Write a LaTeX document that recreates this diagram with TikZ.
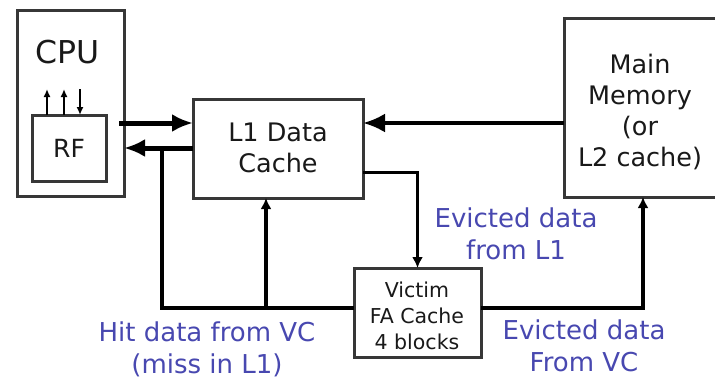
\documentclass[tikz,border=0pt]{standalone}
\usepackage{fontspec}
\setmainfont{DejaVu Sans}
\usetikzlibrary{arrows.meta}
\definecolor{boxline}{RGB}{55,55,55}
\definecolor{labelblue}{RGB}{72,72,176}
\definecolor{txt}{RGB}{25,25,25}
\begin{document}
\begin{tikzpicture}[x=1pt,y=-1pt,
  box/.style={draw=boxline,line width=3pt,rectangle,inner sep=0pt,outer sep=0pt,fill=white},
  bigtxt/.style={text=txt,align=center,font=\fontsize{25.5}{31}\selectfont},
  smalltxt/.style={text=txt,align=center,font=\fontsize{20.5}{26}\selectfont},
  note/.style={text=labelblue,align=center,font=\fontsize{26}{32}\selectfont},
  bus/.style={draw=black,line width=5pt,-{Latex[length=21pt,width=18pt]}},
  wire/.style={draw=black,line width=3.5pt},
  wirearrow/.style={wire,-{Latex[length=11pt,width=11pt]}},
  regarrow/.style={draw=black,line width=2.2pt,-{Latex[length=8pt,width=7pt]}}]
\useasboundingbox (0,0) rectangle (715,381);
\begin{scope}
\clip (0,0) rectangle (715,381);

% boxes
\node[box,minimum width=107pt,minimum height=186pt] (cpu) at (70.5,103) {};
\node[box,minimum width=74pt,minimum height=66pt] (rf) at (69,148) {};
\node[box,minimum width=170pt,minimum height=99pt] (l1) at (278,148.5) {};
\node[box,minimum width=157pt,minimum height=179pt] (mm) at (642.5,107.5) {};
\node[box,minimum width=127pt,minimum height=89pt] (vc) at (417.5,312.5) {};

% texts inside the boxes
\node[text=txt,font=\fontsize{31.5}{31}\selectfont] (cputxt) at (68,52) {CPU};
\node[text=txt,font=\fontsize{25}{25}\selectfont] (rftxt) at (rf) {RF};
\node[bigtxt] (l1txt) at (278,148) {L1 Data\\Cache};
\node[bigtxt] (mmtxt) at (640,112) {Main\\Memory\\(or\\L2 cache)};
\node[smalltxt] (vctxt) at (417,316) {Victim\\FA Cache\\4 blocks};

% blue annotations
\node[note] (n1) at (516,234) {Evicted data\\from L1};
\node[note] (n2) at (207,349) {Hit data from VC\\(miss in L1)};
\node[note] (n3) at (584,346) {Evicted data\\From VC};

% register file ports
\coordinate (p1) at (47,89);
\coordinate (p2) at (64,89);
\coordinate (p3) at (80,89);
\draw[regarrow] (rf.north -| p1) -- (p1);
\draw[regarrow] (rf.north -| p2) -- (p2);
\draw[regarrow] (p3) -- (rf.north -| p3);

% CPU <-> L1
\coordinate (ytop) at (0,123);
\coordinate (ymid) at (0,148);
\coordinate (cpuout) at (119,123);
\draw[bus] (cpuout) -- (l1.west |- ytop);
\draw[bus] (l1.west |- ymid) -- (cpu.east |- ymid);

% main memory -> L1
\draw[wire,-{Latex[length=22pt,width=19pt]}] (mm.west |- ytop) -- (l1.east |- ytop);

% L1 -> victim cache
\coordinate (yev) at (0,172);
\draw[draw=black,line width=3pt,-{Latex[length=11pt,width=11pt]}] (l1.east |- yev) -| (vc.north);

% victim cache -> L1 / CPU
\coordinate (yvc) at (0,308);
\coordinate (join) at (162,148);
\coordinate (tap) at (266,308);
\draw[wire] (vc.west |- yvc) -- (join |- yvc) -- (join);
\draw[wirearrow] (tap) -- (tap |- l1.south);

% victim cache -> main memory
\coordinate (mmin) at (643,0);
\draw[wirearrow] (vc.east |- yvc) -| (mmin |- mm.south);
\end{scope}
\end{tikzpicture}
\end{document}
